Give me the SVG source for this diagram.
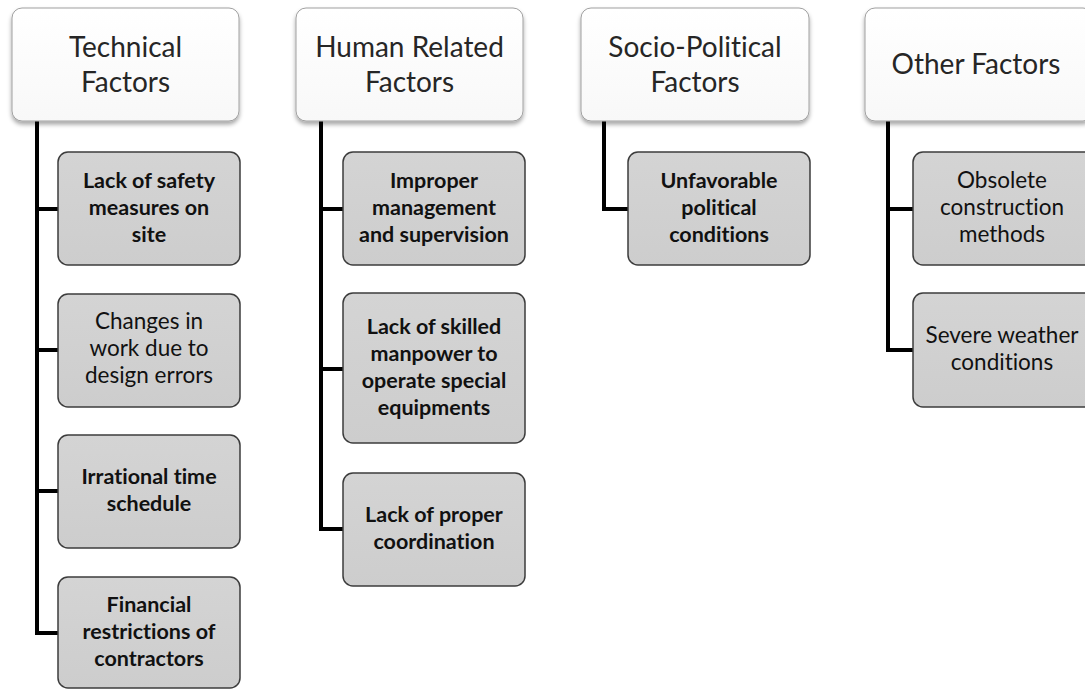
<svg xmlns="http://www.w3.org/2000/svg" width="1085" height="691" viewBox="0 0 1085 691">
<defs>
<linearGradient id="hg" x1="0" y1="0" x2="0" y2="1">
<stop offset="0" stop-color="#ffffff"/><stop offset="1" stop-color="#f8f8f8"/>
</linearGradient>
<linearGradient id="cg" x1="0" y1="0" x2="0" y2="1">
<stop offset="0" stop-color="#d4d4d4"/><stop offset="1" stop-color="#cdcdcd"/>
</linearGradient>
<filter id="sh" x="-10%" y="-10%" width="120%" height="130%">
<feDropShadow dx="0" dy="3" stdDeviation="2" flood-color="#000" flood-opacity="0.35"/>
</filter>
</defs>
<style>
.hd{fill:url(#hg);stroke:#a0a0a0;stroke-width:1;filter:url(#sh)}
.ch{fill:url(#cg);stroke:#3c3c3c;stroke-width:1.5}
text{font-variant-ligatures:none}
.ht{font-family:Lato,"Open Sans",sans-serif;font-size:28px;fill:#262626;text-anchor:middle}
.ct{font-family:Lato,"Open Sans",sans-serif;font-size:21.5px;font-weight:bold;fill:#111;text-anchor:middle}
.cr{font-weight:normal;font-size:22.5px}
.cn{fill:none;stroke:#000;stroke-width:4;stroke-linejoin:miter;stroke-linecap:butt}
</style>
<g id="connectors">
<path class="cn" d="M37 121 V633 H58 M37 209 H58 M37 350 H58 M37 491 H58"/>
<path class="cn" d="M321 121 V529 H343 M321 209 H343 M321 369 H343"/>
<path class="cn" d="M604 121 V209 H628"/>
<path class="cn" d="M888 121 V350 H913 M888 209 H913"/>
</g>
<g id="technical">
<rect class="hd" x="12" y="8" width="227" height="113" rx="10"/>
<text class="ht" x="125.5" y="57">Technical</text>
<text class="ht" x="125.5" y="92">Factors</text>
</g>
<g id="human">
<rect class="hd" x="296" y="8" width="227" height="113" rx="10"/>
<text class="ht" x="409.5" y="57">Human Related</text>
<text class="ht" x="409.5" y="92">Factors</text>
</g>
<g id="socio">
<rect class="hd" x="581" y="8" width="228" height="113" rx="10"/>
<text class="ht" x="695" y="57">Socio-Political</text>
<text class="ht" x="695" y="92">Factors</text>
</g>
<g id="other">
<rect class="hd" x="865" y="8" width="228" height="113" rx="10"/>
<text class="ht" x="976" y="74">Other Factors</text>
</g>
<g id="t1">
<rect class="ch" x="58" y="152" width="182" height="113" rx="10"/>
<text class="ct" x="149" y="188">Lack of safety</text>
<text class="ct" x="149" y="215">measures on</text>
<text class="ct" x="149" y="242">site</text>
</g>
<g id="t2">
<rect class="ch" x="58" y="294" width="182" height="113" rx="10"/>
<text class="ct cr" x="149" y="329">Changes in</text>
<text class="ct cr" x="149" y="356">work due to</text>
<text class="ct cr" x="149" y="383">design errors</text>
</g>
<g id="t3">
<rect class="ch" x="58" y="435" width="182" height="113" rx="10"/>
<text class="ct" x="149" y="484">Irrational time</text>
<text class="ct" x="149" y="511">schedule</text>
</g>
<g id="t4">
<rect class="ch" x="58" y="577" width="182" height="111" rx="10"/>
<text class="ct" x="149" y="612">Financial</text>
<text class="ct" x="149" y="639">restrictions of</text>
<text class="ct" x="149" y="666">contractors</text>
</g>
<g id="h1">
<rect class="ch" x="343" y="152" width="182" height="113" rx="10"/>
<text class="ct" x="434" y="188">Improper</text>
<text class="ct" x="434" y="215">management</text>
<text class="ct" x="434" y="242">and supervision</text>
</g>
<g id="h2">
<rect class="ch" x="343" y="293" width="182" height="150" rx="10"/>
<text class="ct" x="434" y="334">Lack of skilled</text>
<text class="ct" x="434" y="361">manpower to</text>
<text class="ct" x="434" y="388">operate special</text>
<text class="ct" x="434" y="415">equipments</text>
</g>
<g id="h3">
<rect class="ch" x="343" y="473" width="182" height="113" rx="10"/>
<text class="ct" x="434" y="522">Lack of proper</text>
<text class="ct" x="434" y="549">coordination</text>
</g>
<g id="s1">
<rect class="ch" x="628" y="152" width="182" height="113" rx="10"/>
<text class="ct" x="719" y="188">Unfavorable</text>
<text class="ct" x="719" y="215">political</text>
<text class="ct" x="719" y="242">conditions</text>
</g>
<g id="o1">
<rect class="ch" x="913" y="152" width="182" height="113" rx="10"/>
<text class="ct cr" x="1002" y="188">Obsolete</text>
<text class="ct cr" x="1002" y="215">construction</text>
<text class="ct cr" x="1002" y="242">methods</text>
</g>
<g id="o2">
<rect class="ch" x="913" y="293" width="182" height="114" rx="10"/>
<text class="ct cr" x="1002" y="343">Severe weather</text>
<text class="ct cr" x="1002" y="370">conditions</text>
</g>
</svg>
